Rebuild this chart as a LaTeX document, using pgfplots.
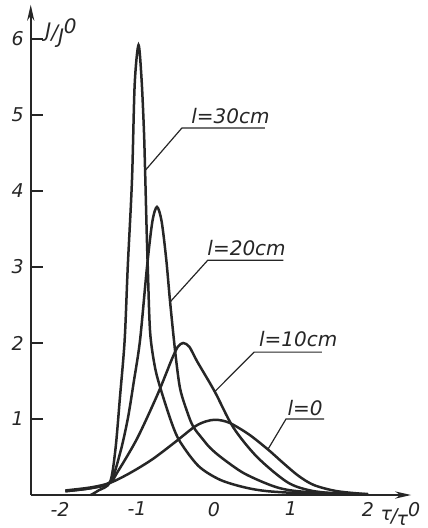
\documentclass[border=0pt]{standalone}
\usepackage{pgfplots}
\pgfplotsset{compat=1.18}
\usetikzlibrary{arrows.meta}
\usepackage{fontspec}
\setmainfont{DejaVu Sans}
\definecolor{ink}{HTML}{262626}
\begin{document}
\begin{tikzpicture}
\begin{axis}[
  x=38.5pt, y=38pt,
  xmin=-2.38, xmax=2.56, ymin=0, ymax=6.45,
  axis x line=bottom, axis y line=left,
  x axis line style={ink, line width=1pt, -{Stealth[length=8pt,width=3.6pt]}},
  y axis line style={ink, line width=1pt, -{Stealth[length=8pt,width=3.6pt]}},
  xtick={-2,-1,0,1,2}, xticklabels={-2,-1,0,1,2},
  ytick={1,2,3,4,5,6}, yticklabels={1,2,3,4,5,6},
  tick align=inside, major tick length=6pt,
  xtick style={draw=none},
  ytick style={ink, line width=0.8pt},
  ticklabel style={font=\fontsize{9.5}{11}\selectfont\itshape, text=ink},
  /pgf/number format/assume math mode=true,
  clip=false,
]
\path (axis cs:-2.779,-0.434) rectangle (axis cs:2.779,6.513);

% l = 0
\addplot[ink, line width=1.25pt, smooth, tension=0.5] coordinates {
(-1.93,0.06) (-1.6,0.10) (-1.35,0.16) (-1.09,0.29) (-0.8,0.47) (-0.5,0.70)
(-0.25,0.90) (-0.1,0.97) (0.03,0.99) (0.2,0.95) (0.45,0.80) (0.7,0.60)
(0.9,0.42) (1.1,0.25) (1.3,0.13) (1.6,0.05) (2.0,0.01)};

% l = 10 cm
\addplot[ink, line width=1.25pt, smooth, tension=0.5] coordinates {
(-1.93,0.05) (-1.6,0.09) (-1.35,0.16) (-1.26,0.29) (-1.0,0.74) (-0.73,1.33)
(-0.55,1.78) (-0.47,1.95) (-0.40,2.0) (-0.32,1.95) (-0.22,1.76) (0.01,1.36)
(0.25,0.89) (0.56,0.50) (0.95,0.17) (1.25,0.06) (1.6,0.02) (2.0,0.01)};

% l = 20 cm
\addplot[ink, line width=1.25pt, smooth, tension=0.5] coordinates {
(-1.93,0.05) (-1.6,0.09) (-1.35,0.17) (-1.22,0.55) (-1.12,1.0) (-1.04,1.5)
(-0.96,2.04) (-0.87,3.0) (-0.80,3.6) (-0.74,3.79) (-0.68,3.6) (-0.62,3.1)
(-0.57,2.54) (-0.50,1.85) (-0.44,1.4) (-0.35,1.1) (-0.27,0.9) (-0.15,0.74)
(-0.05,0.62) (0.1,0.49) (0.4,0.28) (0.82,0.10) (1.2,0.04) (2.0,0.01)};

% l = 30 cm
\addplot[ink, line width=1.25pt, smooth, tension=0.5] coordinates {
(-1.6,0.0) (-1.5,0.06) (-1.35,0.17) (-1.28,0.6) (-1.22,1.3) (-1.16,2.04)
(-1.12,3.0) (-1.065,4.14) (-1.03,5.4) (-0.98,5.92) (-0.94,5.46) (-0.91,4.8)
(-0.895,4.28) (-0.875,3.5) (-0.86,3.0) (-0.83,2.15) (-0.77,1.7) (-0.70,1.42)
(-0.55,0.95) (-0.44,0.70) (-0.2,0.38) (0.08,0.20) (0.4,0.10) (0.7,0.05)
(1.2,0.02) (1.8,0.005)};

% leaders and labels
\draw[ink, line width=0.6pt] (axis cs:-0.885,4.28) -- (axis cs:-0.416,4.83) -- (axis cs:0.66,4.83);
\node[anchor=base west, inner sep=0, font=\fontsize{10}{12}\selectfont\itshape, text=ink] at (axis cs:-0.30,4.89) {l=30cm};
\draw[ink, line width=0.6pt] (axis cs:-0.57,2.54) -- (axis cs:-0.08,3.09) -- (axis cs:0.90,3.09);
\node[anchor=base west, inner sep=0, font=\fontsize{10}{12}\selectfont\itshape, text=ink] at (axis cs:-0.09,3.15) {l=20cm};
\draw[ink, line width=0.6pt] (axis cs:0.01,1.36) -- (axis cs:0.52,1.88) -- (axis cs:1.40,1.88);
\node[anchor=base west, inner sep=0, font=\fontsize{10}{12}\selectfont\itshape, text=ink] at (axis cs:0.58,1.96) {l=10cm};
\draw[ink, line width=0.6pt] (axis cs:0.70,0.60) -- (axis cs:0.935,1.0) -- (axis cs:1.43,1.0);
\node[anchor=base west, inner sep=0, font=\fontsize{10}{12}\selectfont\itshape, text=ink] at (axis cs:0.95,1.05) {l=0};

% axis labels
\node[anchor=west, inner sep=0, font=\fontsize{10}{12}\selectfont\itshape, text=ink] at (axis cs:-2.195,6.08)
  {J\raisebox{-0.2ex}{/}\raisebox{-0.5ex}{J}\raisebox{0.4ex}{0}};
\node[anchor=west, inner sep=0, font=\fontsize{9.5}{11}\selectfont\itshape, text=ink] at (axis cs:2.16,-0.25)
  {τ\kern-0.5pt\raisebox{-0.2ex}{/}\kern-0.5pt\raisebox{-0.5ex}{τ}\raisebox{0.4ex}{0}};
\end{axis}
\end{tikzpicture}
\end{document}
